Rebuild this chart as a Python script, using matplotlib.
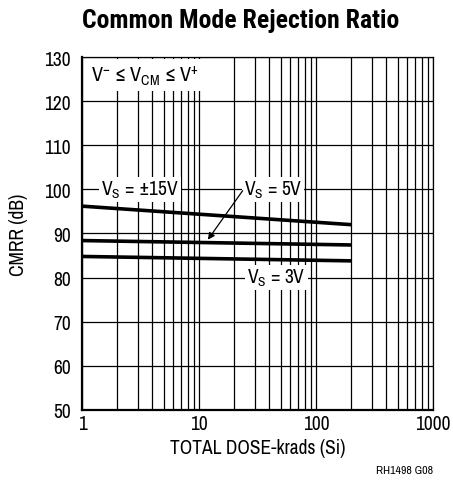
import matplotlib
matplotlib.use("Agg")
import matplotlib.pyplot as plt
from matplotlib.ticker import LogLocator, NullFormatter, FixedLocator
import matplotlib.font_manager as fm

names = {f.name for f in fm.fontManager.ttflist}
body = next((n for n in ['Archivo Narrow', 'Roboto Condensed', 'Liberation Sans Narrow'] if n in names), None)
bold_names = {f.name for f in fm.fontManager.ttflist if f.weight in (700, 'bold')}
head = next((n for n in ['Roboto Condensed', 'Barlow Condensed', 'Archivo Narrow'] if n in bold_names), None)
if body:
    plt.rcParams['font.family'] = [body, 'DejaVu Sans']
else:
    plt.rcParams['font.family'] = ['DejaVu Sans']
    plt.rcParams['font.stretch'] = 'condensed'

# Data
dose = [1, 200]
cmrr_15 = [96.2, 92.0]
cmrr_5 = [88.4, 87.4]
cmrr_3 = [84.8, 83.8]
yticks = [50, 60, 70, 80, 90, 100, 110, 120, 130]
xticks = [1, 10, 100, 1000]
xticklabels = ['1', '10', '100', '1000']

fig = plt.figure(figsize=(4.53, 4.85), dpi=100)
ax = fig.add_axes([0.181, 0.1526, 0.775, 0.7278])
ax.set_xscale('log')
ax.set_xlim(1, 1000)
ax.set_ylim(50, 130)

ax.xaxis.set_major_locator(FixedLocator(xticks))
ax.xaxis.set_minor_locator(LogLocator(base=10, subs=range(2, 10)))
ax.xaxis.set_minor_formatter(NullFormatter())
ax.set_xticks(xticks)
ax.set_xticklabels(xticklabels)
ax.set_yticks(yticks)
ax.grid(which='major', color='black', lw=0.9)
ax.grid(which='minor', axis='x', color='black', lw=0.9)
ax.tick_params(which='both', length=0, labelsize=14)
ax.tick_params(axis='y', pad=8)
ax.tick_params(axis='x', pad=3)
for s in ['left', 'bottom']:
    ax.spines[s].set_linewidth(1.6)
for s in ['top', 'right']:
    ax.spines[s].set_linewidth(0.9)

lw = 2.6
ax.plot(dose, cmrr_15, color='black', lw=lw, solid_capstyle='butt', zorder=3)
ax.plot(dose, cmrr_5, color='black', lw=lw, solid_capstyle='butt', zorder=3)
ax.plot(dose, cmrr_3, color='black', lw=lw, solid_capstyle='butt', zorder=3)

bbox = dict(facecolor='white', edgecolor='none', pad=1.5)
fs = 14
ax.text(3.13, 100, r'V$_\mathregular{S}$ = ±15V', fontsize=fs, ha='center', va='center', bbox=bbox, zorder=4)
ax.text(43, 100, r'V$_\mathregular{S}$ = 5V', fontsize=fs, ha='center', va='center', bbox=bbox, zorder=4)
ax.text(46, 80, r'V$_\mathregular{S}$ = 3V', fontsize=fs, ha='center', va='center', bbox=bbox, zorder=4)
ax.text(1.2, 125.9, r'V$^\mathregular{-}$ ≤ V$_\mathregular{CM}$ ≤ V$^\mathregular{+}$', fontsize=14.5, ha='left', va='center',
        bbox=dict(facecolor='white', edgecolor='none', pad=3), zorder=4)
ax.annotate('', xy=(11.9, 88.6), xytext=(23.6, 99.7),
            arrowprops=dict(arrowstyle='-|>', color='black', lw=0.9, mutation_scale=10,
                            shrinkA=0, shrinkB=0), zorder=5)

ax.set_xlabel('TOTAL DOSE-krads (Si)', fontsize=14, va='center')
ax.xaxis.set_label_coords(0.5, -0.105)
ax.set_ylabel('CMRR (dB)', fontsize=14, va='center')
ax.yaxis.set_label_coords(-0.182, 0.5)
tkw = dict(fontsize=18.5, fontweight='bold', ha='center', va='center')
if head:
    tkw['family'] = [head, 'DejaVu Sans']
fig.text(0.532, 0.957, 'Common Mode Rejection Ratio', **tkw)
fig.text(0.892, 0.029, 'RH1498 G08', fontsize=8.5, ha='center', va='center')

fig.savefig('out.png', dpi=100)
